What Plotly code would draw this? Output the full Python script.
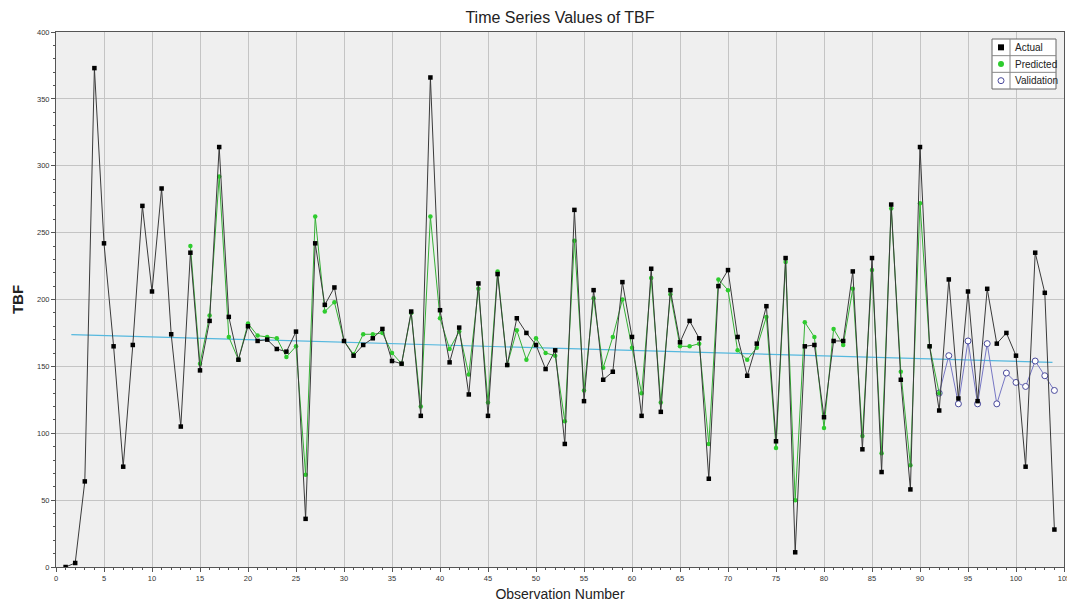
import plotly.graph_objects as go

# ---------------- data ----------------
obs_actual = list(range(1, 105))
actual = [0, 3, 64, 373, 242, 165, 75, 166, 270, 206,
          283, 174, 105, 235, 147, 184, 314, 187, 155, 180,
          169, 170, 163, 161, 176, 36, 242, 196, 209, 169,
          158, 166, 171, 178, 154, 152, 191, 113, 366, 192,
          153, 179, 129, 212, 113, 219, 151, 186, 175, 166,
          148, 162, 92, 267, 124, 207, 140, 146, 213, 172,
          113, 223, 116, 207, 168, 184, 171, 66, 210, 222,
          172, 143, 167, 195, 94, 231, 11, 165, 166, 112,
          169, 169, 221, 88, 231, 71, 271, 140, 58, 314,
          165, 117, 215, 126, 206, 124, 208, 167, 175, 158,
          75, 235, 205, 28]

obs_pred = list(range(14, 93))
predicted = [240, 152, 188, 292, 172, 155, 182, 173, 172, 171,
             157, 165, 69, 262, 191, 198, 169, 159, 174, 174,
             175, 160, 152, 190, 120, 262, 186, 163, 176, 144,
             208, 123, 221, 151, 177, 155, 171, 160, 158, 109,
             244, 132, 201, 149, 172, 200, 164, 130, 216, 123,
             204, 165, 165, 167, 92, 215, 207, 162, 155, 164,
             187, 89, 228, 50, 183, 172, 104, 178, 166, 208,
             98, 222, 85, 268, 146, 76, 272, 165, 130]

obs_valid = list(range(92, 105))
validation = [130, 158, 122, 169, 122, 167, 122, 145, 138, 135, 154, 143, 132]

trend_x = [1.6, 103.8]
trend_y = [173.8, 153.0]

legend_labels = ["Actual", "Predicted", "Validation"]

# ---------------- figure ----------------
W, H = 1067, 605
L, R, T, B = 56, 3, 32, 38
PW, PH = W - L - R, H - T - B

def px(p):
    return (p - L) / PW

def py(p):
    return 1 - (p - T) / PH

C_ACT = "#000000"
C_ACT_LINE = "#3a3a3a"
C_PRED = "#2ecc2e"
C_PRED_LINE = "#35b035"
C_VAL = "#4a4a9c"
C_VAL_LINE = "#7777c4"
C_TREND = "#55b8de"

fig = go.Figure()
fig.add_trace(go.Scatter(x=trend_x, y=trend_y, mode="lines",
                         line=dict(color=C_TREND, width=1.2), showlegend=False,
                         hoverinfo="skip"))
fig.add_trace(go.Scatter(x=obs_valid, y=validation, mode="lines+markers",
                         line=dict(color=C_VAL_LINE, width=1),
                         marker=dict(symbol="circle", size=6, color="white",
                                     line=dict(color=C_VAL, width=1)),
                         name=legend_labels[2], showlegend=False))
fig.add_trace(go.Scatter(x=obs_pred, y=predicted, mode="lines+markers",
                         line=dict(color=C_PRED_LINE, width=1),
                         marker=dict(symbol="circle", size=4.5, color=C_PRED),
                         name=legend_labels[1], showlegend=False))
fig.add_trace(go.Scatter(x=obs_actual, y=actual, mode="lines+markers",
                         line=dict(color=C_ACT_LINE, width=1),
                         marker=dict(symbol="square", size=4.5, color=C_ACT),
                         name=legend_labels[0], showlegend=False))

tick_font = dict(family="Liberation Sans Narrow, Liberation Sans, Arial", size=7.5, color="#333")

fig.update_layout(
    width=W, height=H,
    margin=dict(l=L, r=R, t=T, b=B, autoexpand=False),
    paper_bgcolor="white",
    plot_bgcolor="#efefef",
    title=dict(text="Time Series Values of TBF", x=(L + PW / 2) / W, xanchor="center",
               y=1 - 17 / H, yanchor="middle",
               font=dict(family="Liberation Sans, Arial", size=16, color="#222")),
    xaxis=dict(range=[0, 105], dtick=5, tick0=0, showgrid=True, gridcolor="#c4c4c4",
               gridwidth=1, zeroline=False, showline=True, linecolor="#555",
               linewidth=1, mirror=True, ticks="outside", ticklen=4, tickcolor="#555",
               tickfont=tick_font, ticklabeloverflow="allow",
               minor=dict(dtick=1, ticks="outside", ticklen=2, tickcolor="#555", showgrid=False),
               title=dict(text="Observation Number", standoff=7,
                          font=dict(family="Liberation Sans, Arial", size=14, color="#222"))),
    yaxis=dict(range=[0, 400], dtick=50, tick0=0, showgrid=True, gridcolor="#c4c4c4",
               gridwidth=1, zeroline=False, showline=True, linecolor="#555",
               linewidth=1, mirror=True, ticks="outside", ticklen=4, tickcolor="#555",
               tickfont=tick_font,
               minor=dict(dtick=10, ticks="outside", ticklen=2, tickcolor="#555", showgrid=False),
               title=dict(text="<b>TBF</b>", standoff=9,
                          font=dict(family="Liberation Sans, Arial", size=15, color="#222"))),
    showlegend=False,
)

# ---------------- legend box (drawn) ----------------
lx0, lx1, ly0, ly1 = 992, 1056, 39, 89
lsep = 1010
rows = [ly0 + (ly1 - ly0) * (i + 0.5) / 3 for i in range(3)]
shapes = [
    dict(type="rect", xref="paper", yref="paper", x0=px(lx0), x1=px(lx1), y0=py(ly1), y1=py(ly0),
         line=dict(color="#666", width=1), fillcolor="white", layer="above"),
    dict(type="line", xref="paper", yref="paper", x0=px(lsep), x1=px(lsep), y0=py(ly1), y1=py(ly0),
         line=dict(color="#888", width=1), layer="above"),
]
for i in (1, 2):
    yy = ly0 + (ly1 - ly0) * i / 3
    shapes.append(dict(type="line", xref="paper", yref="paper", x0=px(lx0), x1=px(lx1),
                       y0=py(yy), y1=py(yy), line=dict(color="#888", width=1), layer="above"))
sx = (lx0 + lsep) / 2
shapes.append(dict(type="rect", xref="paper", yref="paper", x0=px(sx - 3), x1=px(sx + 3),
                   y0=py(rows[0] + 3), y1=py(rows[0] - 3), line=dict(color=C_ACT, width=0),
                   fillcolor=C_ACT, layer="above"))
shapes.append(dict(type="circle", xref="paper", yref="paper", x0=px(sx - 3), x1=px(sx + 3),
                   y0=py(rows[1] + 3), y1=py(rows[1] - 3), line=dict(color=C_PRED, width=0),
                   fillcolor=C_PRED, layer="above"))
shapes.append(dict(type="circle", xref="paper", yref="paper", x0=px(sx - 3), x1=px(sx + 3),
                   y0=py(rows[2] + 3), y1=py(rows[2] - 3), line=dict(color=C_VAL, width=1),
                   fillcolor="white", layer="above"))
fig.update_layout(shapes=shapes)
for lab, yy in zip(legend_labels, rows):
    fig.add_annotation(xref="paper", yref="paper", x=px(lsep + 3), y=py(yy), text=lab,
                       showarrow=False, xanchor="left", yanchor="middle",
                       font=dict(family="Liberation Sans Narrow, Liberation Sans, Arial", size=10, color="#222"))

fig.write_html("out.html")
